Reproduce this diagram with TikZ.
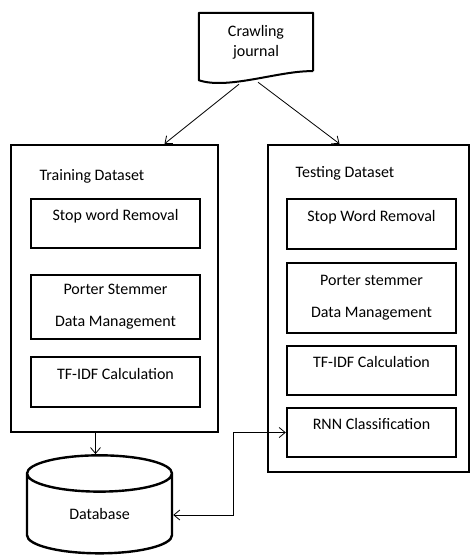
\documentclass[tikz,border=0pt]{standalone}
\usepackage{fontspec}
\setmainfont{Carlito}
\usetikzlibrary{positioning,arrows.meta,shapes.geometric,calc}
\tikzset{
  blk/.style   = {draw, line width=2.4pt, align=center, inner sep=0pt},
  sbox/.style  = {blk, minimum width=169pt, minimum height=49pt,
                  text height=11pt, text depth=17pt},
  dbox/.style  = {blk, minimum width=169pt},
  frame/.style = {draw, line width=2.4pt, minimum width=207pt},
  lbl/.style   = {inner sep=0pt},
  ar/.style    = {-{Straight Barb[length=6pt,width=10pt]}, line width=0.8pt},
  arr/.style   = {{Straight Barb[length=6pt,width=10pt]}-{Straight Barb[length=6pt,width=10pt]},
                  line width=0.8pt},
  dbase/.style = {draw, line width=2.4pt, shape=cylinder, shape border rotate=90,
                  aspect=0.6, minimum width=145pt, minimum height=98pt, inner sep=0pt},
}
\begin{document}
\begin{tikzpicture}[x=1pt, y=-1pt, font=\fontsize{16}{18}\selectfont]
\useasboundingbox (0,0) rectangle (471,559);
% source document
\node[minimum width=114pt, minimum height=58pt, align=center, inner sep=0pt] (crawl)
     at (256,42) {Crawling\\[2pt]journal};
\draw[line width=2pt, line join=round] (crawl.south east) -- (crawl.north east)
     -- (crawl.north west) -- ([yshift=-9pt]crawl.south west)
     .. controls +(29pt,-10pt) and +(-33pt,1pt) .. (crawl.south east);
% training side
\node[frame, minimum height=287pt] (train) at (114.5,288.5) {};
\node[lbl] (trainlbl) at (92,176) {Training Dataset};
\node[sbox] (tsw) at (115.5,223.5) {Stop word Removal};
\node[dbox, minimum height=64pt] (tpor) at (115.5,307)
     {Porter Stemmer\\[14pt]Data Management};
\node[sbox, minimum height=50pt] (ttf) at (115.5,382) {TF-IDF Calculation};
% testing side
\node[frame, minimum width=201pt, minimum height=327pt] (test) at (368.5,308.5) {};
\node[lbl] (testlbl) at (345,173) {Testing Dataset};
\node[sbox, minimum height=50pt] (esw) at (371.5,224) {Stop Word Removal};
\node[dbox, minimum height=70pt] (epor) at (371.5,298)
     {Porter stemmer\\[14pt]Data Management};
\node[sbox] (etf) at (371.5,370.5) {TF-IDF Calculation};
\node[sbox] (rnn) at (371.5,432.5) {RNN Classification};
% storage
\node[dbase] (db) at (99.5,514) {Database};
\draw[ar] ([xshift=-4pt]db.north |- train.south) -- ([xshift=-4pt]db.north);
\draw[ar] ([xshift=-17pt,yshift=-13pt]crawl.south) -- ([xshift=50pt]train.north);
\draw[ar] ([xshift=2pt,yshift=-11pt]crawl.south) -- ([xshift=-29pt]test.north);
\draw[arr] ([yshift=-1pt]db.east) -- ++(60pt,0pt) |- (rnn.west);
\end{tikzpicture}
\end{document}
